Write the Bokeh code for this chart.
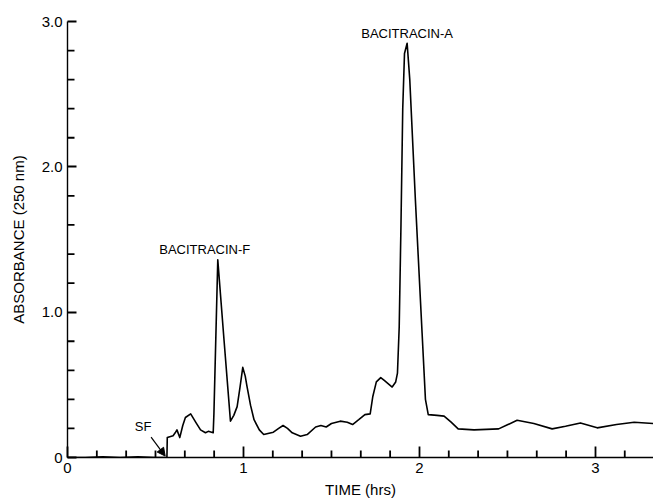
from bokeh.plotting import figure
from bokeh.models import FixedTicker, Arrow, NormalHead, Label, ColumnDataSource
from bokeh.embed import file_html
from bokeh.resources import INLINE

# Chromatogram trace (time in hours, absorbance at 250 nm)
time_hrs = [0.0, 0.10, 0.20, 0.30, 0.40, 0.50, 0.565, 0.567, 0.60, 0.612, 0.622, 0.638,
            0.655, 0.67, 0.70, 0.73, 0.756, 0.784, 0.80, 0.828, 0.832, 0.854, 0.89, 0.926,
            0.945, 0.964, 0.98, 0.996, 1.01, 1.02, 1.04, 1.06, 1.09, 1.115, 1.17, 1.20,
            1.225, 1.25, 1.277, 1.324, 1.362, 1.41, 1.44, 1.47, 1.50, 1.55, 1.59, 1.62,
            1.655, 1.69, 1.72, 1.735, 1.755, 1.78, 1.80, 1.845, 1.865, 1.875, 1.885, 1.895,
            1.905, 1.915, 1.93, 1.945, 1.977, 2.015, 2.034, 2.05, 2.10, 2.14, 2.18, 2.22,
            2.31, 2.45, 2.50, 2.555, 2.65, 2.754, 2.83, 2.915, 3.01, 3.12, 3.22, 3.33]
absorbance = [0.0, 0.0, 0.005, 0.0, 0.005, 0.0, 0.0, 0.137, 0.15, 0.17, 0.19, 0.137,
              0.22, 0.275, 0.30, 0.24, 0.19, 0.17, 0.18, 0.17, 0.30, 1.36, 0.80, 0.25,
              0.29, 0.35, 0.48, 0.62, 0.56, 0.49, 0.36, 0.26, 0.19, 0.158, 0.174, 0.20,
              0.22, 0.20, 0.17, 0.146, 0.158, 0.21, 0.22, 0.21, 0.234, 0.25, 0.243, 0.227,
              0.26, 0.295, 0.30, 0.42, 0.52, 0.55, 0.53, 0.485, 0.52, 0.58, 0.90, 1.60,
              2.40, 2.78, 2.85, 2.60, 1.77, 0.857, 0.40, 0.295, 0.29, 0.285, 0.243, 0.197,
              0.19, 0.197, 0.225, 0.256, 0.234, 0.197, 0.215, 0.238, 0.204, 0.227, 0.243, 0.234]

# Ticks: major at whole units, minor every 10 minutes / every 0.2 absorbance
x_major = [0, 1, 2, 3]
x_minor = [round(i / 6, 6) for i in range(1, 20) if i % 6 != 0]
y_major = [0, 1, 2, 3]
y_minor = [round(i / 5, 6) for i in range(1, 15) if i % 5 != 0]
y_tick_labels = {0: "0", 1: "1.0", 2: "2.0", 3: "3.0"}

FONT = "Liberation Sans"
X_END = 3.33
Y_END = 3.0

p = figure(width=653, height=500, output_backend="svg", toolbar_location=None,
           x_range=(0, X_END), y_range=(0, Y_END),
           min_border_left=67, min_border_right=0, min_border_top=21, min_border_bottom=42)
p.outline_line_color = None
p.grid.visible = False
p.background_fill_color = "white"
p.border_fill_color = "white"

src = ColumnDataSource(dict(t=time_hrs, a=absorbance))
p.line("t", "a", source=src, line_color="black", line_width=1.6, line_join="round")

# minor tick marks drawn inward from the axes
frame_w, frame_h = 653 - 67, 500 - 21 - 42
tick_len_y = 7 * Y_END / frame_h
tick_len_x = 7 * X_END / frame_w
p.segment(x0=x_minor, y0=[0] * len(x_minor), x1=x_minor, y1=[tick_len_y] * len(x_minor),
          line_color="black", line_width=1.8)
p.segment(x0=[0] * len(y_minor), y0=y_minor, x1=[tick_len_x] * len(y_minor), y1=y_minor,
          line_color="black", line_width=1.8)

for ax in (p.xaxis[0], p.yaxis[0]):
    ax.axis_line_color = "black"
    ax.axis_line_width = 1.4
    ax.major_tick_line_color = "black"
    ax.major_tick_line_width = 1.8
    ax.minor_tick_line_color = None
    ax.major_tick_out = 0
    ax.major_label_text_font = FONT
    ax.major_label_text_font_size = "15px"
    ax.major_label_text_color = "black"
    ax.axis_label_text_font = FONT
    ax.axis_label_text_font_size = "15px"
    ax.axis_label_text_font_style = "normal"
    ax.axis_label_text_color = "black"

xa = p.xaxis[0]
xa.ticker = FixedTicker(ticks=x_major)
xa.major_tick_in = 11
xa.major_label_standoff = 5
xa.axis_label = "TIME (hrs)"
xa.axis_label_standoff = 5

ya = p.yaxis[0]
ya.ticker = FixedTicker(ticks=y_major)
ya.major_label_overrides = y_tick_labels
ya.major_tick_in = 9
ya.major_label_standoff = 5
ya.axis_label = "ABSORBANCE (250 nm)"
ya.axis_label_standoff = 12

# Annotations
label_a = ("BACITRACIN-A", 1.93, 2.92)
label_f = ("BACITRACIN-F", 0.78, 1.43)
label_sf = ("SF", 0.43, 0.21)
for txt, lx, ly in (label_a, label_f, label_sf):
    p.add_layout(Label(x=lx, y=ly, text=txt, text_font=FONT, text_font_size="13px",
                       text_align="center", text_baseline="middle", text_color="black"))

arrow_start = (0.475, 0.14)
arrow_end = (0.555, 0.01)
p.add_layout(Arrow(x_start=arrow_start[0], y_start=arrow_start[1],
                   x_end=arrow_end[0], y_end=arrow_end[1],
                   line_color="black", line_width=1.2,
                   end=NormalHead(size=8, fill_color="black", line_color="black")))

open("out.html", "w").write(file_html(p, INLINE))
